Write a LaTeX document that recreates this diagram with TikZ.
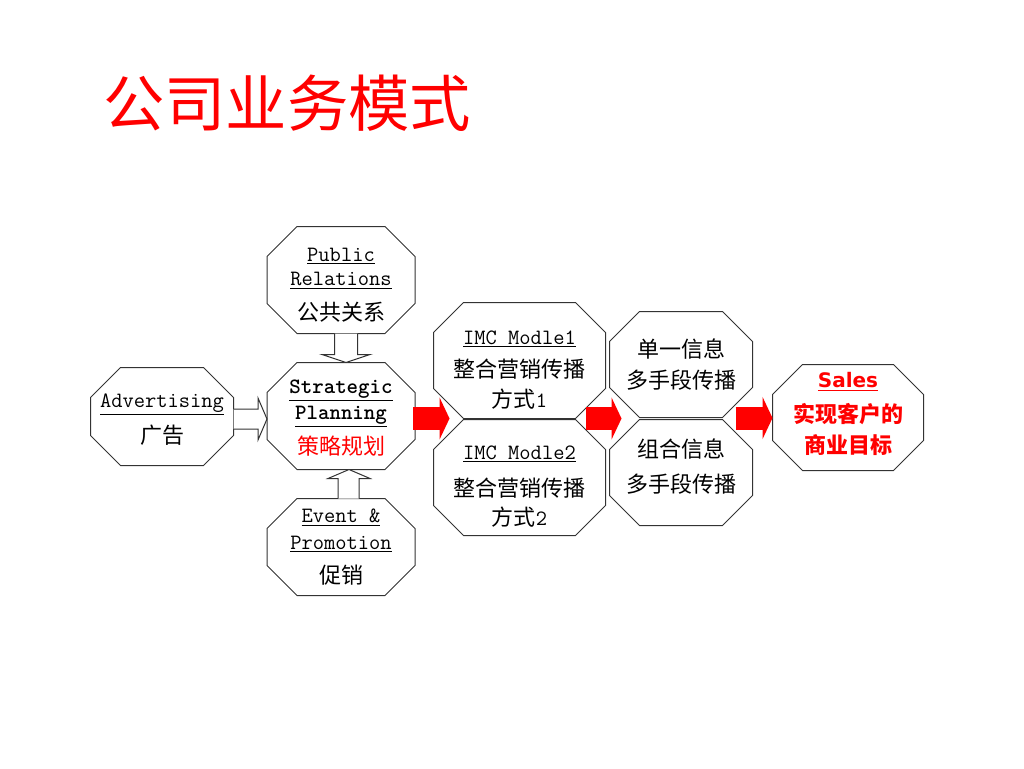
\documentclass[tikz,border=0pt]{standalone}
\usepackage{fontspec}
\setsansfont{DejaVu Sans}
\newfontfamily\cjk{Noto Sans CJK SC}
\usetikzlibrary{calc,arrows.meta}

\newcommand\zh[1]{{\cjk\fontsize{16.5}{23}\selectfont #1}}

\tikzset{every picture/.style={line width=0.75pt}}
\tikzset{
  octbox/.style={inner sep=0pt, align=center, font=\ttfamily\fontsize{16.4}{23}\selectfont},
  octline/.style={draw=black!80, line join=miter},
  hollow/.style={draw=black!80, fill=white, line join=miter},
  redarrow/.style={draw=red, line width=17.25pt, -{Triangle[width=31.5pt,length=7.5pt]}}
}

\begin{document}
\begin{tikzpicture}[x=0.75pt,y=0.75pt,yscale=-1,xscale=1]
    \useasboundingbox (0,0) rectangle (1024,768);

    %Title
    \node[font=\cjk\fontsize{46}{50}\selectfont, text=red] (title) at (287,103) {公司业务模式};

    %Boxes
    \node[octbox, minimum width=106.5pt, minimum height=72.75pt] (adv) at (162,416.5) {\rule{0pt}{15pt}\underline{Advertising}\\[3.75pt]\zh{广告}};
    \node[octbox, minimum width=110.25pt, minimum height=79.5pt] (pr) at (341,280) {\rule{0pt}{17.5pt}\underline{Public}\\[-4.5pt]\underline{Relations}\\[3pt]\zh{公共关系}};
    \node[octbox, minimum width=110.25pt, minimum height=79.5pt] (sp) at (341,416) {\rule{0pt}{14pt}\bfseries\underline{Strategic}\\[-4pt]\bfseries\underline{Planning}\\[3.75pt]\textcolor{red}{\zh{策略规划}}};
    \node[octbox, minimum width=110.25pt, minimum height=72pt] (ev) at (341,547) {\underline{Event \&}\\[-3pt]\underline{Promotion}\\[2.25pt]\zh{促销}};
    \node[octbox, minimum width=128.25pt, minimum height=86.25pt] (imc1) at (519.5,360.5) {\rule{0pt}{25pt}\underline{IMC Modle1}\\[1.5pt]\zh{整合营销传播}\\\zh{方式}1};
    \node[octbox, minimum width=128.25pt, minimum height=86.25pt] (imc2) at (519.5,477.5) {\rule{0pt}{24pt}\underline{IMC Modle2}\\[5pt]\zh{整合营销传播}\\[-1.5pt]\zh{方式}2};
    \node[octbox, minimum width=106.5pt, minimum height=78.75pt] (dan) at (681,364.5) {\zh{单一信息}\\\zh{多手段传播}};
    \node[octbox, minimum width=106.5pt, minimum height=78.75pt] (zu) at (681,472.5) {\zh{组合信息}\\[3pt]\zh{多手段传播}\rule[-10pt]{0pt}{0pt}};
    \node[octbox, minimum width=112.5pt, minimum height=78.75pt, text=red] (sales) at (848,417.5) {{\sffamily\bfseries\fontsize{15}{23}\selectfont\underline{Sales}}\\[3pt]{\cjk\bfseries\fontsize{16.5}{23}\selectfont 实现客户的}\\{\cjk\bfseries\fontsize{16.5}{23}\selectfont 商业目标}\rule[-7pt]{0pt}{0pt}};

    %Octagon outlines
    \foreach \n in {adv,pr,sp,ev,imc1,imc2,dan,zu,sales}
      \draw[octline] ($(\n.north west)+(30,0)$) -- ($(\n.north east)+(-30,0)$) -- ($(\n.north east)+(0,30)$) -- ($(\n.south east)+(0,-30)$) -- ($(\n.south east)+(-30,0)$) -- ($(\n.south west)+(30,0)$) -- ($(\n.south west)+(0,-30)$) -- ($(\n.north west)+(0,30)$) -- cycle;

    %Hollow arrows
    \draw[hollow] ($(pr.south)+(-6.5,0)$) -- ($(sp.north)+(-6.5,-8)$) -- ($(sp.north)+(-19,-8)$) -- ($(sp.north)+(5,0)$) -- ($(sp.north)+(29,-8)$) -- ($(sp.north)+(16.5,-8)$) -- ($(pr.south)+(16.5,0)$);
    \draw[hollow] ($(adv.east)+(0,-7.5)$) -- ($(sp.west)+(-9,-7)$) -- ($(sp.west)+(-9,-18)$) -- ($(sp.west)+(0,3)$) -- ($(sp.west)+(-9,24)$) -- ($(sp.west)+(-9,13)$) -- ($(adv.east)+(0,12.5)$);
    \draw[hollow] ($(ev.north)+(-3,0)$) -- ($(sp.south)+(-3,9)$) -- ($(sp.south)+(-13,9)$) -- ($(sp.south)+(8,0)$) -- ($(sp.south)+(29,9)$) -- ($(sp.south)+(18,9)$) -- ($(ev.north)+(18,0)$);

    %Red arrows
    \draw[redarrow] ($(sp.east)+(-2,2.5)$) -- ($(imc1.west|-sp.east)+(16,2.5)$);
    \draw[redarrow] ($(imc1.east|-sp.east)+(-20,2.5)$) -- ($(dan.west|-sp.east)+(12,2.5)$);
    \draw[redarrow] ($(dan.east|-sales.west)+(-17,0.5)$) -- ($(sales.west)+(0,0.5)$);

\end{tikzpicture}
\end{document}
